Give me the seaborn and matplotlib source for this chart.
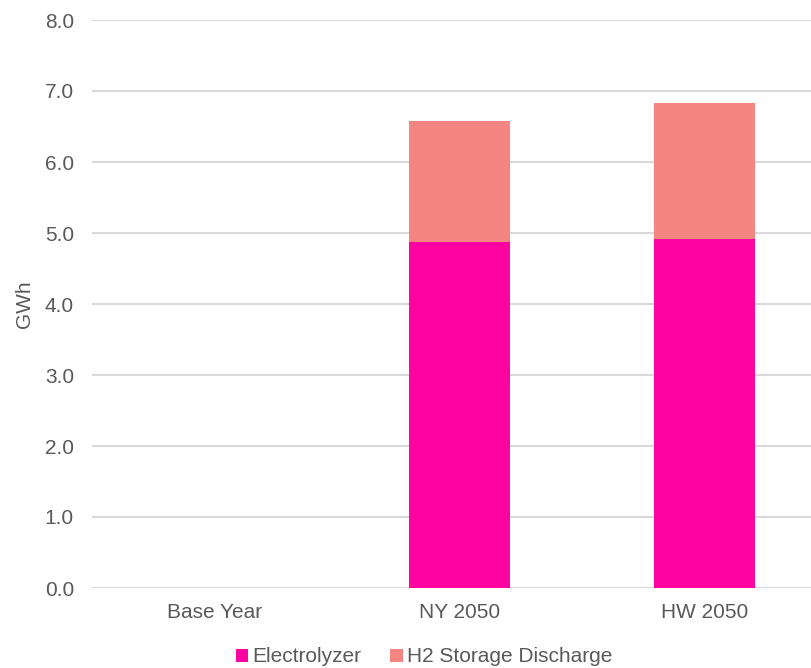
import matplotlib
matplotlib.use("Agg")
import matplotlib.pyplot as plt
import pandas as pd
import seaborn as sns
from matplotlib.patches import Patch

# values (GWh)
scenarios = ["Base Year", "NY 2050", "HW 2050"]
electrolyzer = [0.0, 4.87, 4.91]
h2_discharge = [0.0, 1.71, 1.92]
series_names = ["Electrolyzer", "H2 Storage Discharge"]
series_colors = ["#FF03A0", "#F48580"]

df = pd.DataFrame({
    "scenario": scenarios,
    "electrolyzer": electrolyzer,
    "total": [a + b for a, b in zip(electrolyzer, h2_discharge)],
})

sns.set_theme(style="white")
plt.rcParams["font.family"] = ["Liberation Sans", "DejaVu Sans"]

fig = plt.figure(figsize=(8.12, 6.68), dpi=100)
# right edge runs past the image, as in the reference (clipped chart)
ax = fig.add_axes([92 / 812, 1 - 588 / 668, 735 / 812, 568 / 668])

# stacked: draw totals first, then the bottom segment over them
sns.barplot(data=df, x="scenario", y="total", color=series_colors[1],
            width=0.41, saturation=1, ax=ax, zorder=2, linewidth=0, edgecolor="none")
sns.barplot(data=df, x="scenario", y="electrolyzer", color=series_colors[0],
            width=0.41, saturation=1, ax=ax, zorder=3, linewidth=0, edgecolor="none")

ax.set_ylim(0, 8)
ax.set_xlim(-0.5, 2.5)
ax.set_yticks([i * 1.0 for i in range(9)])
ax.set_yticklabels([f"{i:.1f}" for i in range(9)])
ax.yaxis.grid(True, color="#D9D9D9", linewidth=1.5, zorder=0)
ax.set_axisbelow(True)
for s in ax.spines.values():
    s.set_visible(False)
ax.tick_params(axis="both", length=0, labelsize=15, colors="#595959")
ax.tick_params(axis="y", pad=13)
ax.tick_params(axis="x", pad=11)
ax.set_xlabel("")
ax.set_ylabel("GWh", fontsize=15, color="#595959", labelpad=8)

handles = [Patch(facecolor=c, edgecolor="none") for c in series_colors]
fig.legend(handles, series_names, loc="center", bbox_to_anchor=(424 / 812, 1 - 657 / 668),
           ncol=2, frameon=False, fontsize=15, labelcolor="#595959",
           handlelength=0.6, handleheight=0.6, handletextpad=0.2, columnspacing=1.4)

fig.savefig("out.png", dpi=100)
